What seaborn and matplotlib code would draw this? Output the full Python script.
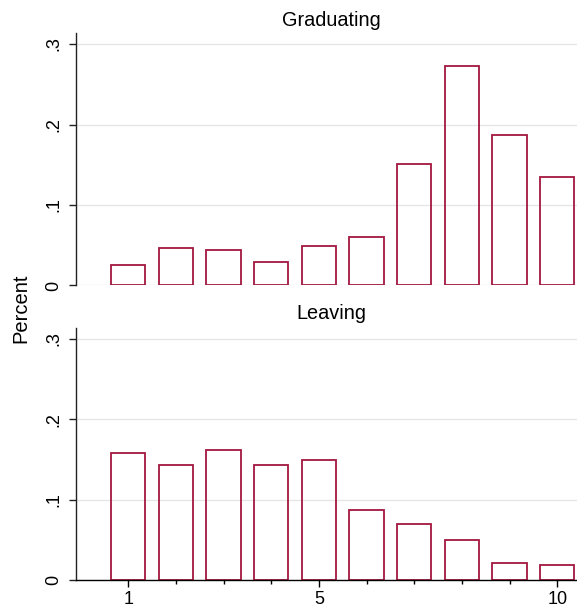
import matplotlib
matplotlib.use("Agg")
import matplotlib.pyplot as plt
import seaborn as sns
import pandas as pd
from matplotlib.ticker import FixedLocator

# Datos
categories = [1, 2, 3, 4, 5, 6, 7, 8, 9, 10]
graduating = [0.025, 0.047, 0.0447, 0.0294, 0.0493, 0.0605, 0.1507, 0.2725, 0.1872, 0.135]
leaving = [0.158, 0.1436, 0.1622, 0.1427, 0.1494, 0.0865, 0.0695, 0.0497, 0.0211, 0.019]
panel_titles = ["Graduating", "Leaving"]
y_ticks = [0, 0.1, 0.2, 0.3]
y_tick_labels = ["0", ".1", ".2", ".3"]
x_ticks = [1, 5, 10]
x_tick_labels = ["1", "5", "10"]
x_minor_ticks = [2, 3, 4, 6, 7, 8, 9]

BAR_COLOR = "#a3173f"
GRID_COLOR = "#e6e6e6"

sns.set_theme(style="white")
plt.rcParams["font.family"] = ["Liberation Sans", "DejaVu Sans"]
plt.rcParams["text.color"] = "black"
plt.rcParams["xtick.labelcolor"] = "black"
plt.rcParams["ytick.labelcolor"] = "black"

fig = plt.figure(figsize=(5.77, 6.10), dpi=100)
ax_top = fig.add_axes([0.1317, 0.532, 0.8683, 0.4134])
ax_bot = fig.add_axes([0.1317, 0.0492, 0.8683, 0.4126])

panels = [(ax_top, graduating, panel_titles[0], 5.5),
          (ax_bot, leaving, panel_titles[1], 7.0)]

for ax, values, title, pad in panels:
    df = pd.DataFrame({"category": categories, "value": values})
    sns.barplot(
        data=df, x="category", y="value", native_scale=True,
        width=0.72, fill=False, color=BAR_COLOR, saturation=1,
        linewidth=1.3, errorbar=None, ax=ax,
    )
    ax.set_xlabel("")
    ax.set_ylabel("")
    ax.set_xlim(-0.097, 10.413)
    ax.set_ylim(0, 0.3133)

    # Rejilla horizontal
    ax.set_axisbelow(True)
    ax.set_yticks(y_ticks)
    ax.set_yticklabels(y_tick_labels)
    ax.yaxis.grid(True, color=GRID_COLOR, linewidth=1.0)
    ax.xaxis.grid(False)

    ax.tick_params(axis="y", left=True, length=5, width=1, pad=5,
                   labelsize=13, labelrotation=90, color="#222222",
                   labelcolor="black")
    for lab in ax.get_yticklabels():
        lab.set_va("center")

    ax.spines["top"].set_visible(False)
    ax.spines["right"].set_visible(False)
    ax.spines["left"].set_color("#222222")
    ax.spines["left"].set_linewidth(1.0)

    ax.set_title(title, fontsize=14.3, pad=pad, x=0.509, color="black")

# Panel superior sin eje x
ax_top.spines["bottom"].set_visible(False)
ax_top.tick_params(axis="x", bottom=False, labelbottom=False)

# Panel inferior con eje x
ax_bot.spines["bottom"].set_color("black")
ax_bot.spines["bottom"].set_linewidth(1.0)
ax_bot.set_xticks(x_ticks)
ax_bot.set_xticklabels(x_tick_labels)
ax_bot.xaxis.set_minor_locator(FixedLocator(x_minor_ticks))
ax_bot.tick_params(axis="x", which="major", bottom=True, length=5, width=1,
                   pad=3, labelsize=13, color="black", labelcolor="black")
ax_bot.tick_params(axis="x", which="minor", bottom=True, length=3, width=1,
                   color="black")

fig.text(0.037, 0.495, "Percent", rotation=90, va="center", ha="center",
         fontsize=14.5, color="black")

fig.savefig("out.png", dpi=100)
